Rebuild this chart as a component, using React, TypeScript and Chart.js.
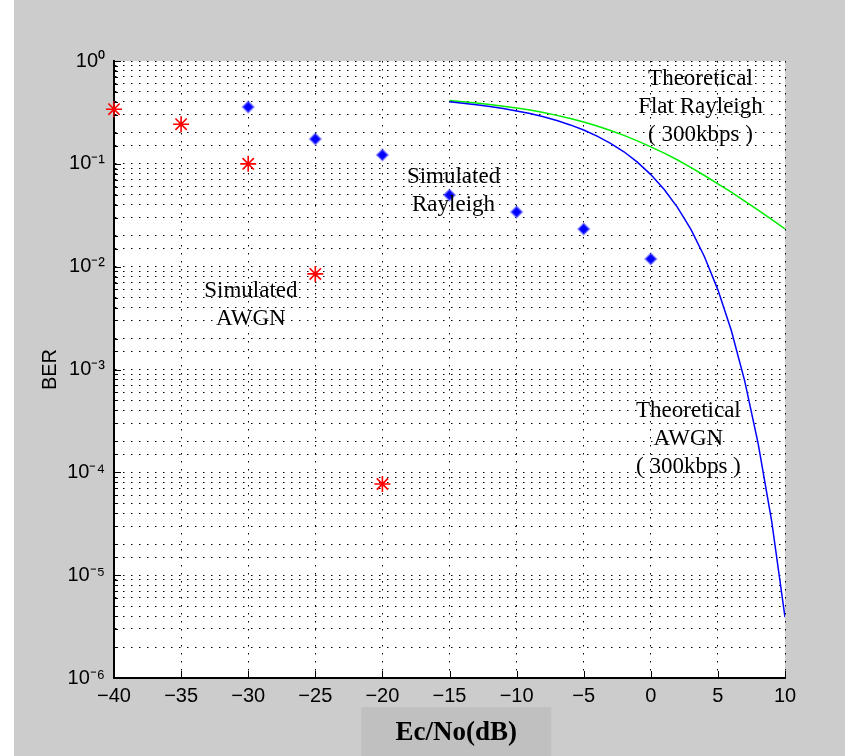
import React, { useEffect, useRef } from 'react';
import { Chart, registerables } from 'chart.js';

Chart.register(...registerables);

const W = 845;
const H = 756;

// Theoretical curves (Ec/No in dB)
const theoryX = [-15, -14, -13, -12, -11, -10, -9, -8, -7, -6, -5, -4, -3, -2, -1, 0, 1, 2, 3, 4, 5, 6, 7, 8, 9, 10];
const theoryAwgn = [0.401, 0.389, 0.376, 0.361, 0.345, 0.327, 0.308, 0.287, 0.264, 0.239, 0.213, 0.186, 0.158, 0.131, 0.104, 0.0786, 0.0563, 0.0375, 0.0229, 0.0125, 0.00595, 0.00239, 0.00077, 0.00019, 3.4e-5, 3.9e-6];
const theoryRayleigh = [0.412, 0.402, 0.391, 0.378, 0.364, 0.349, 0.333, 0.315, 0.296, 0.276, 0.255, 0.233, 0.211, 0.189, 0.167, 0.146, 0.127, 0.109, 0.092, 0.077, 0.064, 0.053, 0.0435, 0.0355, 0.0288, 0.0233];

// Simulated points
const simAwgnX = [-40, -35, -30, -25, -20];
const simAwgn = [0.34, 0.243, 0.1, 0.0085, 7.7e-5];
const simRayX = [-30, -25, -20, -15, -10, -5, 0];
const simRayleigh = [0.357, 0.174, 0.122, 0.0497, 0.034, 0.0232, 0.0119];

// Ticks
const xTickValues = [-40, -35, -30, -25, -20, -15, -10, -5, 0, 5, 10];
const xTickLabels = ['\u221240', '\u221235', '\u221230', '\u221225', '\u221220', '\u221215', '\u221210', '\u22125', '0', '5', '10'];
const yTickValues = [1e-6, 1e-5, 1e-4, 1e-3, 1e-2, 1e-1, 1];
const yTickLabels = ['10\u207B\u2076', '10\u207B\u2075', '10\u207B\u2074', '10\u207B\u00B3', '10\u207B\u00B2', '10\u207B\u00B9', '10\u2070'];

// Text annotations anchored in data coordinates (middle of block)
const annotationLines = [
  ['Theoretical', 'Flat Rayleigh', '( 300kbps )'],
  ['Theoretical', 'AWGN', '( 300kbps )'],
  ['Simulated', 'Rayleigh'],
  ['Simulated', 'AWGN'],
];
const annotationX = [3.7, 2.8, -14.7, -29.8];
const annotationY = [0.355, 2.1e-4, 0.054, 0.0042];

const xTitle = 'Ec/No(dB)';
const yTitle = 'BER';

const isDecade = (v: number) => {
  const l = Math.log10(v);
  return Math.abs(l - Math.round(l)) < 1e-6;
};

const decoPlugin = {
  id: 'deco',
  beforeDraw(chart: any) {
    const { ctx, chartArea } = chart;
    const { left, top, right, bottom } = chartArea;
    ctx.save();
    ctx.fillStyle = '#cccccc';
    ctx.fillRect(0, 0, chart.width, chart.height);
    ctx.fillStyle = '#ffffff';
    ctx.fillRect(0, 0, 14, chart.height);
    ctx.fillRect(left, top, right - left, bottom - top);
    // x label box
    const cx = left + (right - left) * 0.51;
    ctx.fillStyle = '#c0c0c0';
    ctx.fillRect(cx - 95, bottom + 29, 190, chart.height - bottom - 29);
    ctx.restore();
  },
  afterDraw(chart: any) {
    const { ctx, chartArea } = chart;
    const { left, top, right, bottom } = chartArea;
    const xs = chart.scales.x;
    const ys = chart.scales.y;
    ctx.save();
    // inward tick marks
    ctx.strokeStyle = '#000';
    ctx.lineWidth = 1;
    ctx.beginPath();
    xs.ticks.forEach((t: any) => {
      const px = Math.round(xs.getPixelForValue(t.value)) + 0.5;
      ctx.moveTo(px, bottom);
      ctx.lineTo(px, bottom - 7);
    });
    ys.ticks.forEach((t: any) => {
      const py = Math.round(ys.getPixelForValue(t.value)) + 0.5;
      ctx.moveTo(left, py);
      ctx.lineTo(left + (isDecade(t.value) ? 7 : 4), py);
    });
    ctx.stroke();

    // axis titles
    ctx.fillStyle = '#000';
    ctx.textAlign = 'center';
    ctx.textBaseline = 'middle';
    ctx.font = 'bold 27px "Liberation Serif", "Times New Roman", serif';
    const cx = left + (right - left) * 0.51;
    ctx.fillText(xTitle, cx, bottom + 55);
    ctx.save();
    ctx.translate(50, (top + bottom) / 2);
    ctx.rotate(-Math.PI / 2);
    ctx.font = '20px "Liberation Sans", Arial, sans-serif';
    ctx.fillText(yTitle, 0, 0);
    ctx.restore();

    // annotations
    ctx.font = '23px "Liberation Serif", "Times New Roman", serif';
    annotationLines.forEach((lines, i) => {
      const ax = xs.getPixelForValue(annotationX[i]);
      const ay = ys.getPixelForValue(annotationY[i]);
      const lh = 28;
      const startY = ay - ((lines.length - 1) * lh) / 2;
      lines.forEach((ln, j) => ctx.fillText(ln, ax, startY + j * lh));
    });
    ctx.restore();
  },
};

export default function App() {
  const ref = useRef<HTMLCanvasElement | null>(null);
  useEffect(() => {
    if (!ref.current) return;
    const tickFont = { family: '"Liberation Sans", Arial, sans-serif', size: 20 };
    const chart = new Chart(ref.current, {
      type: 'line',
      data: {
        datasets: [
          {
            label: 'Theoretical AWGN',
            data: theoryX.map((x, i) => ({ x, y: theoryAwgn[i] })),
            borderColor: '#0000ff',
            borderWidth: 1.5,
            pointRadius: 0,
            tension: 0,
          },
          {
            label: 'Theoretical Flat Rayleigh',
            data: theoryX.map((x, i) => ({ x, y: theoryRayleigh[i] })),
            borderColor: '#00ee00',
            borderWidth: 1.5,
            pointRadius: 0,
            tension: 0,
          },
          {
            label: 'Simulated AWGN',
            data: simAwgnX.map((x, i) => ({ x, y: simAwgn[i] })),
            showLine: false,
            pointStyle: 'star',
            pointRadius: 8,
            borderColor: '#ff0000',
            backgroundColor: '#ff0000',
            pointBorderWidth: 1.6,
            clip: false,
          },
          {
            label: 'Simulated Rayleigh',
            data: simRayX.map((x, i) => ({ x, y: simRayleigh[i] })),
            showLine: false,
            pointStyle: 'rectRot',
            pointRadius: 5.5,
            borderColor: 'rgba(90,90,255,0.55)',
            backgroundColor: '#0000ff',
            pointBorderWidth: 2,
            clip: false,
          },
        ],
      },
      options: {
        animation: false,
        responsive: false,
        maintainAspectRatio: false,
        devicePixelRatio: 1,
        layout: { padding: { left: 0, top: 61, right: 60, bottom: 0 } },
        plugins: { legend: { display: false }, tooltip: { enabled: false } },
        scales: {
          x: {
            type: 'linear',
            min: -40,
            max: 10,
            afterBuildTicks: (s: any) => {
              s.ticks = xTickValues.map((v) => ({ value: v }));
            },
            afterFit: (s: any) => {
              s.height = 78;
            },
            ticks: {
              autoSkip: false,
              maxRotation: 0,
              padding: 6,
              color: '#000',
              font: tickFont,
              callback: (v: any) => {
                const i = xTickValues.indexOf(Number(v));
                return i >= 0 ? xTickLabels[i] : '';
              },
            },
            grid: { color: '#000', lineWidth: 1, drawTicks: false },
            border: { display: true, color: '#000', width: 2, dash: [1.5, 6.5] },
          },
          y: {
            type: 'logarithmic',
            min: 1e-6,
            max: 1,
            afterFit: (s: any) => {
              s.width = 114;
            },
            ticks: {
              autoSkip: false,
              padding: 9,
              color: '#000',
              font: tickFont,
              callback: (v: any) => {
                const n = Number(v);
                if (!isDecade(n)) return '';
                const e = Math.round(Math.log10(n));
                const i = yTickValues.findIndex((t) => Math.round(Math.log10(t)) === e);
                return i >= 0 ? yTickLabels[i] : '';
              },
            },
            grid: { color: '#000', lineWidth: 1, drawTicks: false },
            border: { display: true, color: '#000', width: 2, dash: [1.5, 6.5] },
          },
        },
      },
      plugins: [decoPlugin],
    } as any);
    return () => chart.destroy();
  }, []);
  return (
    <div style={{ position: 'fixed', left: 0, top: 0, width: W, height: H }}>
      <canvas ref={ref} width={W} height={H} style={{ width: W, height: H, display: 'block' }} />
    </div>
  );
}
